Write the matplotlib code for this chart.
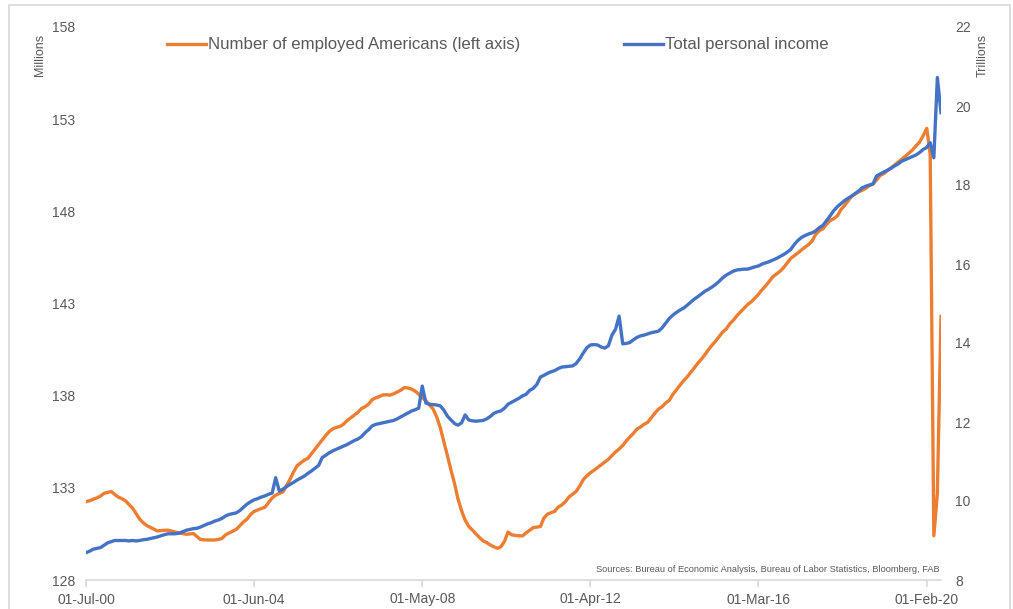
import matplotlib
matplotlib.use("Agg")
import matplotlib.pyplot as plt
import matplotlib.dates as mdates
from matplotlib.patches import Rectangle
import pandas as pd
import numpy as np

plt.rcParams['font.family'] = ['Liberation Sans', 'DejaVu Sans']

# Monthly data starting 01-Jul-2000
start_date = "2000-07-01"

employed_millions = [
    132.25, 132.3, 132.38, 132.45, 132.55, 132.7, 132.75, 132.8, 132.65, 132.5, 132.42, 132.3,
    132.1, 131.9, 131.6, 131.3, 131.1, 130.95, 130.85, 130.75, 130.66, 130.68, 130.7, 130.7,
    130.65, 130.6, 130.55, 130.52, 130.48, 130.5, 130.52, 130.35, 130.2, 130.18, 130.17, 130.17,
    130.17, 130.2, 130.25, 130.45, 130.55, 130.65, 130.75, 130.95, 131.15, 131.3, 131.55, 131.72,
    131.8, 131.88, 131.95, 132.2, 132.45, 132.6, 132.7, 132.78, 133.1, 133.45, 133.85, 134.2,
    134.35, 134.5, 134.6, 134.85, 135.1, 135.35, 135.6, 135.85, 136.05, 136.2, 136.28, 136.33,
    136.45, 136.65, 136.8, 136.95, 137.1, 137.3, 137.4, 137.55, 137.78, 137.88, 137.95, 138.04,
    138.05, 138.03, 138.1, 138.2, 138.3, 138.44, 138.42, 138.35, 138.25, 138.08, 137.9, 137.72,
    137.5, 137.28, 136.85, 136.27, 135.5, 134.75, 133.95, 133.2, 132.4, 131.75, 131.25, 130.9,
    130.72, 130.5, 130.3, 130.12, 130.03, 129.9, 129.8, 129.72, 129.8, 130.1, 130.6, 130.45,
    130.42, 130.4, 130.39, 130.55, 130.7, 130.84, 130.87, 130.9, 131.35, 131.57, 131.65, 131.72,
    131.95, 132.07, 132.25, 132.5, 132.65, 132.8, 133.1, 133.45, 133.65, 133.82, 133.95, 134.1,
    134.25, 134.4, 134.55, 134.75, 134.95, 135.1, 135.3, 135.55, 135.75, 135.95, 136.18, 136.3,
    136.45, 136.55, 136.8, 137.05, 137.27, 137.4, 137.6, 137.75, 138.05, 138.3, 138.55, 138.8,
    139.0, 139.25, 139.5, 139.75, 139.98, 140.22, 140.5, 140.75, 140.95, 141.2, 141.45, 141.62,
    141.9, 142.1, 142.35, 142.55, 142.75, 142.95, 143.1, 143.3, 143.5, 143.75, 143.96, 144.2,
    144.45, 144.6, 144.75, 144.95, 145.2, 145.45, 145.6, 145.75, 145.9, 146.05, 146.2, 146.4,
    146.75, 146.95, 147.05, 147.3, 147.5, 147.6, 147.75, 148.1, 148.3, 148.55, 148.8, 148.95,
    149.05, 149.15, 149.25, 149.4, 149.48, 149.7, 149.95, 150.05, 150.2, 150.35, 150.5, 150.66,
    150.82, 150.98, 151.15, 151.32, 151.55, 151.75, 152.1, 152.5, 151.1, 130.4, 132.7, 142.3,
]

income_trillions = [
    8.69, 8.73, 8.78, 8.8, 8.82, 8.88, 8.94, 8.97, 9.0, 9.0, 9.0, 9.0,
    8.99, 9.0, 8.99, 9.0, 9.02, 9.03, 9.05, 9.07, 9.09, 9.12, 9.15, 9.17,
    9.17, 9.17, 9.19, 9.22, 9.26, 9.28, 9.3, 9.31, 9.34, 9.38, 9.42, 9.45,
    9.49, 9.52, 9.56, 9.62, 9.66, 9.68, 9.7, 9.76, 9.84, 9.92, 9.98, 10.03,
    10.06, 10.1, 10.13, 10.17, 10.2, 10.59, 10.25, 10.3, 10.36, 10.42, 10.47, 10.53,
    10.58, 10.63, 10.7, 10.76, 10.83, 10.9, 11.1, 11.16, 11.22, 11.27, 11.31, 11.35,
    11.39, 11.43, 11.48, 11.53, 11.57, 11.63, 11.73, 11.81, 11.9, 11.94, 11.96, 11.98,
    12.0, 12.02, 12.04, 12.08, 12.13, 12.18, 12.23, 12.28, 12.31, 12.35, 12.91, 12.48,
    12.45, 12.44, 12.43, 12.41, 12.3, 12.15, 12.05, 11.96, 11.92, 11.98, 12.18, 12.05,
    12.03, 12.02, 12.03, 12.04, 12.08, 12.14, 12.22, 12.26, 12.28, 12.35, 12.45, 12.5,
    12.55, 12.6, 12.66, 12.7, 12.8, 12.85, 12.95, 13.14, 13.18, 13.23, 13.27, 13.3,
    13.35, 13.39, 13.4, 13.41, 13.42, 13.48, 13.6, 13.75, 13.88, 13.95, 13.96, 13.95,
    13.9, 13.87, 13.93, 14.2, 14.35, 14.68, 13.98, 13.99, 14.01, 14.08, 14.14, 14.18,
    14.2, 14.23, 14.26, 14.28, 14.3, 14.38, 14.5, 14.62, 14.7, 14.77, 14.83, 14.88,
    14.95, 15.03, 15.11, 15.17, 15.24, 15.31, 15.36, 15.42, 15.48, 15.56, 15.65, 15.72,
    15.77, 15.82, 15.85, 15.86, 15.87, 15.87, 15.9, 15.93, 15.95, 16.0, 16.03, 16.06,
    16.1, 16.14, 16.19, 16.24, 16.3, 16.37, 16.5, 16.6, 16.67, 16.72, 16.76, 16.79,
    16.84, 16.92, 16.98, 17.1, 17.22, 17.35, 17.45, 17.53, 17.6, 17.66, 17.72, 17.78,
    17.85, 17.93, 17.97, 18.0, 18.03, 18.23, 18.28, 18.33, 18.37, 18.42, 18.48, 18.53,
    18.6, 18.64, 18.68, 18.72, 18.76, 18.82, 18.9, 18.95, 19.07, 18.69, 20.72, 19.83,
]

tick_labels_dates = ["2000-07-01", "2004-06-01", "2008-05-01", "2012-04-01", "2016-03-01", "2020-02-01"]
left_ticks = [128, 133, 138, 143, 148, 153, 158]
right_ticks = [8, 10, 12, 14, 16, 18, 20, 22]

label_emp = "Number of employed Americans (left axis)"
label_inc = "Total personal income"
source_text = "Sources: Bureau of Economic Analysis, Bureau of Labor Statistics, Bloomberg, FAB"

ORANGE = "#ED7D31"
BLUE = "#4472C4"
TXT = "#595959"
GRID = "#D9D9D9"

dates_emp = pd.date_range(start_date, periods=len(employed_millions), freq="MS")
dates_inc = pd.date_range(start_date, periods=len(income_trillions), freq="MS")

fig = plt.figure(figsize=(10.13, 6.09), dpi=100)
ax = fig.add_axes([86 / 1013, 29 / 609, (941 - 86) / 1013, 553 / 609])
ax2 = ax.twinx()

l1, = ax.plot(dates_emp, employed_millions, color=ORANGE, lw=2.4, solid_joinstyle="round", label=label_emp)
l2, = ax2.plot(dates_inc, income_trillions, color=BLUE, lw=2.4, solid_joinstyle="round", label=label_inc)

ax.set_xlim(dates_emp[0], dates_emp[-1])
ax.set_ylim(128, 158)
ax2.set_ylim(8, 22)
ax.set_yticks(left_ticks)
ax2.set_yticks(right_ticks)

ax.set_xticks(pd.to_datetime(tick_labels_dates))
ax.xaxis.set_major_formatter(mdates.DateFormatter("%d-%b-%y"))

for a in (ax, ax2):
    for s in ("top", "left", "right"):
        a.spines[s].set_visible(False)
    a.spines["bottom"].set_color(GRID)
    a.spines["bottom"].set_linewidth(1.2)
ax2.spines["bottom"].set_visible(False)

ax.tick_params(axis="y", length=0, pad=8, labelsize=10, labelcolor=TXT)
ax2.tick_params(axis="y", length=0, pad=10, labelsize=10, labelcolor=TXT)
ax.tick_params(axis="x", length=5, width=1.2, color=GRID, pad=4, labelsize=10, labelcolor=TXT)

fig.text(40 / 1013, 1 - 55 / 609, "Millions", rotation=90, ha="center", va="center", fontsize=9, color=TXT)
fig.text(983 / 1013, 1 - 55 / 609, "Trillions", rotation=90, ha="center", va="center", fontsize=9, color=TXT)

leg = ax2.legend(handles=[l1, l2], loc="center left", bbox_to_anchor=(167 / 1013, 1 - 45 / 609),
                 bbox_transform=fig.transFigure, ncol=2, frameon=False, fontsize=12.1,
                 handlelength=2.3, handletextpad=0.12, columnspacing=6.2, borderaxespad=0, borderpad=0)
for t in leg.get_texts():
    t.set_color(TXT)

fig.text(940 / 1013, 1 - 570 / 609, source_text, ha="right", va="center", fontsize=6.7, color=TXT)

fig.patches.append(Rectangle((9 / 1013, -0.01), 1001 / 1013, (604 / 609) + 0.01, transform=fig.transFigure,
                             fill=False, edgecolor=GRID, lw=1.2))

fig.savefig("out.png", dpi=100)
